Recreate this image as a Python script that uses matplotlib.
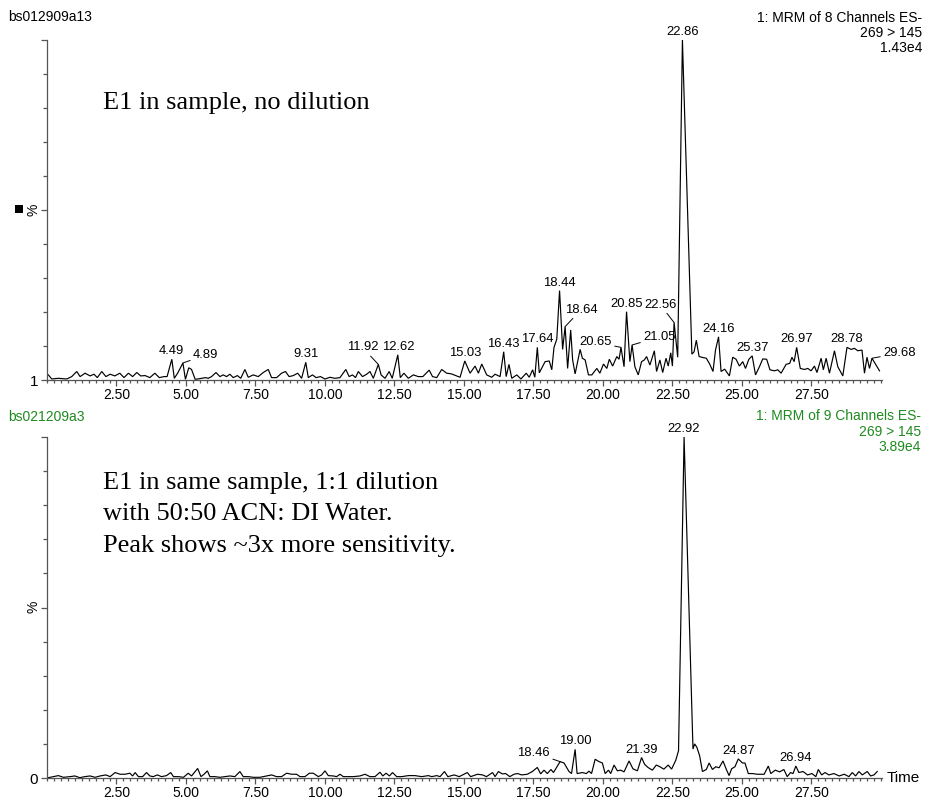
import matplotlib
matplotlib.use("Agg")
import matplotlib.pyplot as plt
from matplotlib.ticker import FixedLocator, MultipleLocator
from matplotlib.patches import Rectangle

plt.rcParams['font.family'] = ['Liberation Sans', 'DejaVu Sans']

# ---- Run bs012909a13: E1, no dilution (MRM 269 > 145) ----
top_time = [0.05, 0.17, 0.41, 0.71, 0.89, 1.07, 1.19, 1.37, 1.55, 1.69, 1.81, 1.97, 2.12, 2.27,
            2.44, 2.62, 2.77, 2.93, 3.08, 3.23, 3.37, 3.53, 3.70, 3.88, 4.04, 4.21, 4.32, 4.49,
            4.58, 4.70, 4.89, 4.98, 5.10, 5.20, 5.33, 5.50, 5.70, 5.80, 5.92, 6.08, 6.22, 6.34,
            6.46, 6.58, 6.70, 6.85, 6.97, 7.12, 7.24, 7.42, 7.60, 7.78, 7.96, 8.08, 8.26, 8.44,
            8.58, 8.71, 8.86, 9.02, 9.16, 9.31, 9.40, 9.55, 9.68, 9.84, 10.00, 10.18, 10.36,
            10.54, 10.75, 10.87, 10.99, 11.10, 11.20, 11.35, 11.50, 11.62, 11.74, 11.92, 12.02,
            12.16, 12.31, 12.42, 12.62, 12.71, 12.84, 13.00, 13.18, 13.36, 13.52, 13.75, 13.87,
            14.02, 14.20, 14.38, 14.55, 14.86, 15.03, 15.22, 15.40, 15.52, 15.64, 15.82, 16.00,
            16.12, 16.30, 16.43, 16.52, 16.62, 16.72, 16.90, 17.05, 17.24, 17.35, 17.47, 17.55,
            17.64, 17.71, 17.92, 18.07, 18.16, 18.24, 18.34, 18.44, 18.55, 18.64, 18.73, 18.84,
            18.91, 19.00, 19.18, 19.26, 19.36, 19.48, 19.60, 19.78, 19.89, 20.02, 20.14, 20.23,
            20.35, 20.50, 20.58, 20.65, 20.76, 20.85, 20.97, 21.05, 21.15, 21.27, 21.39, 21.49,
            21.57, 21.69, 21.85, 21.93, 22.05, 22.15, 22.27, 22.35, 22.44, 22.50, 22.56, 22.69,
            22.86, 23.20, 23.28, 23.36, 23.46, 23.60, 23.72, 23.84, 23.96, 24.05, 24.16, 24.25,
            24.38, 24.55, 24.67, 24.79, 24.91, 25.03, 25.13, 25.25, 25.37, 25.49, 25.63, 25.75,
            25.89, 26.01, 26.17, 26.29, 26.41, 26.59, 26.72, 26.80, 26.88, 26.97, 27.10, 27.25,
            27.37, 27.49, 27.61, 27.70, 27.85, 27.93, 28.03, 28.15, 28.33, 28.45, 28.63, 28.78,
            28.93, 29.05, 29.17, 29.32, 29.41, 29.50, 29.59, 29.68, 29.95]
top_pct = [1.5, 0.3, 0.5, 0.3, 1.0, 2.5, 1.0, 2.0, 1.2, 1.7, 0.7, 2.5, 1.0, 1.7,
           1.2, 2.0, 0.7, 2.0, 1.0, 2.2, 1.2, 1.3, 0.7, 2.0, 0.7, 1.0, 1.0, 6.1,
           0.5, 2.0, 5.0, 0.2, 3.6, 3.1, 0.2, 0.4, 0.7, 0.5, 1.0, 2.2, 1.0, 1.5,
           1.0, 1.7, 0.7, 1.3, 0.5, 3.1, 0.8, 1.5, 1.0, 2.2, 3.1, 0.7, 0.7, 2.0,
           2.5, 1.0, 1.3, 2.0, 0.5, 5.2, 0.7, 1.5, 0.7, 1.0, 0.3, 0.8, 0.5,
           0.7, 3.1, 1.0, 1.5, 0.7, 2.5, 1.0, 1.7, 2.5, 0.5, 4.6, 1.5,
           0.5, 2.5, 0.5, 7.4, 0.7, 2.0, 0.5, 1.5, 1.0, 1.0, 2.9, 1.0,
           0.7, 3.1, 2.0, 1.8, 0.8, 5.6, 2.0, 4.1, 2.0, 4.7, 1.5, 0.8,
           1.7, 1.0, 8.3, 1.0, 4.6, 0.5, 1.5, 0.3, 2.0, 0.8, 3.0, 0.8,
           9.6, 2.1, 5.4, 5.6, 3.0, 9.6, 12.0, 26.3, 9.0, 15.7, 3.4, 14.7,
           5.9, 1.8, 9.0, 6.4, 5.9, 1.5, 1.5, 3.4, 2.0, 4.7, 3.4, 6.1,
           4.1, 6.9, 6.1, 9.6, 3.9, 20.1, 5.4, 10.3, 3.9, 1.5, 5.4, 5.9,
           6.9, 4.4, 8.6, 2.5, 5.9, 2.2, 6.4, 4.1, 8.0, 4.1, 16.9, 6.7,
           100.0, 7.6, 8.3, 11.7, 6.9, 6.6, 6.4, 4.7, 2.5, 8.8, 12.7, 2.5,
           3.2, 1.2, 6.7, 6.1, 4.1, 5.4, 3.4, 6.1, 7.1, 1.5, 3.9, 6.2,
           6.1, 3.0, 2.7, 3.0, 2.0, 4.6, 4.9, 6.7, 5.4, 9.6, 3.4, 3.1,
           3.4, 2.7, 4.1, 2.2, 6.4, 3.0, 6.4, 2.0, 8.6, 3.9, 1.2, 9.6,
           9.0, 9.3, 8.6, 8.8, 2.0, 6.7, 3.4, 6.4, 2.7]
top_peaks = [4.49, 4.89, 9.31, 11.92, 12.62, 15.03, 16.43, 17.64, 18.44, 18.64, 20.65,
             20.85, 21.05, 22.56, 22.86, 24.16, 25.37, 26.97, 28.78, 29.68]

# ---- Run bs021209a3: E1, 1:1 dilution with 50:50 ACN:DI water ----
bot_time = [0.05, 0.23, 0.41, 0.59, 0.83, 1.00, 1.18, 1.36, 1.55, 1.73, 1.91, 2.12, 2.27, 2.45,
            2.63, 2.81, 2.98, 3.08, 3.17, 3.29, 3.44, 3.58, 3.70, 3.82, 3.97, 4.12, 4.30, 4.45,
            4.55, 4.73, 4.91, 5.08, 5.20, 5.42, 5.54, 5.65, 5.77, 5.86, 6.04, 6.22, 6.40, 6.58,
            6.76, 6.94, 7.06, 7.24, 7.42, 7.66, 7.90, 8.08, 8.26, 8.44, 8.62, 8.80, 8.98, 9.10,
            9.28, 9.44, 9.58, 9.76, 9.88, 10.00, 10.12, 10.30, 10.42, 10.54, 10.66, 10.84, 11.02,
            11.26, 11.44, 11.62, 11.80, 11.98, 12.08, 12.20, 12.32, 12.43, 12.58, 12.76, 13.00,
            13.24, 13.48, 13.72, 13.84, 14.02, 14.14, 14.30, 14.42, 14.65, 14.83, 15.12, 15.24,
            15.49, 15.67, 15.81, 16.03, 16.12, 16.24, 16.38, 16.50, 16.65, 16.80, 16.93, 17.08,
            17.28, 17.46, 17.64, 17.76, 17.88, 18.00, 18.13, 18.22, 18.46, 18.60, 18.78, 18.87,
            19.00, 19.07, 19.26, 19.40, 19.50, 19.59, 19.72, 19.86, 19.98, 20.08, 20.20, 20.28,
            20.40, 20.52, 20.64, 20.76, 20.94, 21.08, 21.24, 21.39, 21.50, 21.62, 21.78, 21.92,
            22.05, 22.19, 22.35, 22.47, 22.62, 22.72, 22.92, 23.24, 23.30, 23.38, 23.48, 23.58,
            23.72, 23.82, 23.94, 24.06, 24.18, 24.32, 24.44, 24.54, 24.63, 24.75, 24.87, 25.02,
            25.11, 25.23, 25.38, 25.56, 25.80, 25.95, 26.04, 26.20, 26.36, 26.51, 26.63, 26.75,
            26.84, 26.94, 27.05, 27.20, 27.36, 27.52, 27.66, 27.75, 27.87, 27.99, 28.13, 28.31,
            28.50, 28.68, 28.85, 28.97, 29.09, 29.21, 29.33, 29.51, 29.63, 29.75, 29.87]
bot_pct = [0.1, 0.4, 0.7, 0.2, 0.4, 0.6, 0.1, 0.4, 0.6, 0.2, 0.6, 0.9, 0.4, 1.6,
           1.1, 1.1, 1.4, 0.6, 1.6, 0.4, 0.4, 1.6, 0.6, 0.4, 0.9, 0.4, 0.7, 1.6,
           0.4, 0.4, 0.2, 1.4, 0.6, 2.8, 0.4, 1.1, 2.1, 0.4, 0.4, 0.2, 0.4, 0.6,
           0.4, 1.9, 0.4, 0.4, 0.2, 0.2, 0.6, 0.9, 0.4, 0.4, 1.4, 1.1, 1.1, 0.4,
           0.4, 1.4, 1.4, 0.4, 0.9, 2.1, 0.7, 0.6, 0.4, 1.1, 0.4, 0.4, 0.4,
           0.6, 1.1, 0.4, 0.4, 1.7, 0.6, 1.4, 0.6, 1.6, 0.4, 0.4, 0.7,
           0.7, 0.4, 0.7, 0.4, 0.7, 0.4, 1.9, 0.4, 0.9, 0.4, 1.6, 0.4,
           1.1, 0.9, 0.4, 1.6, 0.4, 1.9, 1.2, 1.3, 0.4, 1.1, 1.3, 0.9,
           1.1, 1.9, 3.1, 1.2, 2.3, 1.3, 2.5, 1.6, 4.8, 4.4, 1.9, 1.3,
           8.4, 1.3, 1.6, 1.3, 2.0, 1.3, 5.5, 4.8, 4.4, 1.3, 2.3, 1.3,
           3.8, 2.1, 2.3, 1.8, 5.0, 2.7, 2.1, 6.0, 4.0, 3.1, 2.3, 3.8,
           3.3, 2.6, 3.8, 2.6, 5.2, 8.0, 100.0, 8.5, 10.0, 9.0, 6.5, 1.9,
           2.5, 4.4, 2.5, 3.3, 3.0, 5.0, 2.5, 0.7, 2.7, 3.3, 5.6, 4.4,
           4.4, 1.3, 1.3, 1.1, 1.1, 3.5, 1.3, 2.3, 1.8, 2.5, 0.4, 1.6,
           1.3, 3.5, 1.6, 1.9, 0.9, 1.3, 0.4, 2.5, 0.9, 1.6, 0.9, 1.3,
           0.6, 1.1, 0.4, 1.6, 0.6, 1.9, 0.9, 1.9, 0.6, 0.9, 1.9]
bot_peaks = [18.46, 19.00, 21.39, 22.92, 24.87, 26.94]

x_ticks = [2.5, 5.0, 7.5, 10.0, 12.5, 15.0, 17.5, 20.0, 22.5, 25.0, 27.5]

# label placement for peaks whose label sits off to the side (offset in pixels, alignment)
leader_style = {
    4.89: (10, 8, 'left'), 11.92: (-16, 17, 'center'), 18.64: (16, 17, 'center'),
    20.65: (-9, 5, 'right'), 21.05: (11, 8, 'left'), 22.56: (-14, 18, 'center'),
    29.68: (11, 5, 'left'), 18.46: (-10, 9, 'right'),
}

W, H = 925, 801
AXIS = '#555555'
GREEN = '#1f8a1f'
SMALL = 10


def px_rect(left, top, right, bottom):
    return [left / W, 1 - bottom / H, (right - left) / W, (bottom - top) / H]


def fx(x):
    return x / W


def fy(y):
    return 1 - y / H


fig = plt.figure(figsize=(9.25, 8.01), dpi=100)
ax1 = fig.add_axes(px_rect(47, 40, 882, 380))
ax2 = fig.add_axes(px_rect(47, 437, 882, 778))


def style_axes(ax, base_label):
    ax.set_xlim(0, 30.04)
    ax.set_ylim(0, 100)
    for side in ('top', 'right'):
        ax.spines[side].set_visible(False)
    for side in ('left', 'bottom'):
        ax.spines[side].set_color(AXIS)
        ax.spines[side].set_linewidth(0.9)
    ax.xaxis.set_major_locator(FixedLocator(x_ticks))
    ax.xaxis.set_minor_locator(MultipleLocator(0.25))
    ax.set_xticklabels([f"{v:.2f}" for v in x_ticks])
    ax.tick_params(axis='x', which='major', length=4.5, width=0.9, color=AXIS,
                   labelsize=SMALL, pad=1.5)
    ax.tick_params(axis='x', which='minor', length=2.5, width=0.9, color=AXIS)
    ax.yaxis.set_major_locator(FixedLocator([0, 50, 100]))
    ax.yaxis.set_minor_locator(MultipleLocator(10))
    ax.set_yticklabels([base_label, '', ''])
    ax.tick_params(axis='y', which='major', length=4.5, width=0.9, color=AXIS,
                   labelsize=SMALL + 1, pad=2)
    ax.tick_params(axis='y', which='minor', length=3, width=0.9, color=AXIS)
    ax.set_facecolor('none')


def draw_trace(ax, t, y, peaks):
    ax.plot(t, y, color='black', lw=0.85, solid_joinstyle='miter', clip_on=False)
    for p in peaks:
        yv = y[t.index(p)]
        label = f"{p:.2f}"
        if p in leader_style:
            dx, dy, ha = leader_style[p]
            ax.annotate(label, xy=(p, yv), xytext=(dx, dy), textcoords='offset pixels',
                        ha=ha, va='center', fontsize=SMALL - 0.6,
                        arrowprops=dict(arrowstyle='-', lw=0.7, color='black',
                                        shrinkA=0, shrinkB=0))
        else:
            ax.annotate(label, xy=(p, yv), xytext=(0, 2), textcoords='offset pixels',
                        ha='center', va='bottom', fontsize=SMALL - 0.6)


style_axes(ax1, '1')
style_axes(ax2, '0')
draw_trace(ax1, top_time, top_pct, top_peaks)
draw_trace(ax2, bot_time, bot_pct, bot_peaks)

# y-axis "%" captions and the marker square
fig.text(fx(34), fy(210), '%', rotation=90, ha='center', va='center', fontsize=SMALL)
fig.text(fx(34), fy(607), '%', rotation=90, ha='center', va='center', fontsize=SMALL)
fig.add_artist(Rectangle((fx(15), fy(213)), 8 / W, 8 / H, transform=fig.transFigure,
                         facecolor='black', edgecolor='none'))
fig.text(fx(887), fy(778), 'Time', ha='left', va='center', fontsize=SMALL + 1)

# run headers
fig.text(fx(8), fy(21), 'bs012909a13', ha='left', va='baseline', fontsize=SMALL)
for i, line in enumerate(['1: MRM of 8 Channels ES-', '269 > 145', '1.43e4']):
    fig.text(fx(922), fy(21.5 + 15.3 * i), line, ha='right', va='baseline', fontsize=SMALL)
fig.text(fx(8), fy(421.5), 'bs021209a3', ha='left', va='baseline', fontsize=SMALL, color=GREEN)
for i, line in enumerate(['1: MRM of 9 Channels ES-', '269 > 145', '3.89e4']):
    fig.text(fx(921), fy(420.5 + 15.3 * i), line, ha='right', va='baseline', fontsize=SMALL,
             color=GREEN)

# sample notes
serif = ['Liberation Serif', 'DejaVu Serif']
fig.text(fx(103), fy(109), 'E1 in sample, no dilution', ha='left', va='baseline',
         fontsize=19, family=serif)
notes = ['E1 in same sample, 1:1 dilution', 'with 50:50 ACN: DI Water.',
         'Peak shows ~3x more sensitivity.']
for i, line in enumerate(notes):
    fig.text(fx(103), fy(489 + 31.5 * i), line, ha='left', va='baseline', fontsize=19,
             family=serif)

fig.savefig('out.png', dpi=100)
